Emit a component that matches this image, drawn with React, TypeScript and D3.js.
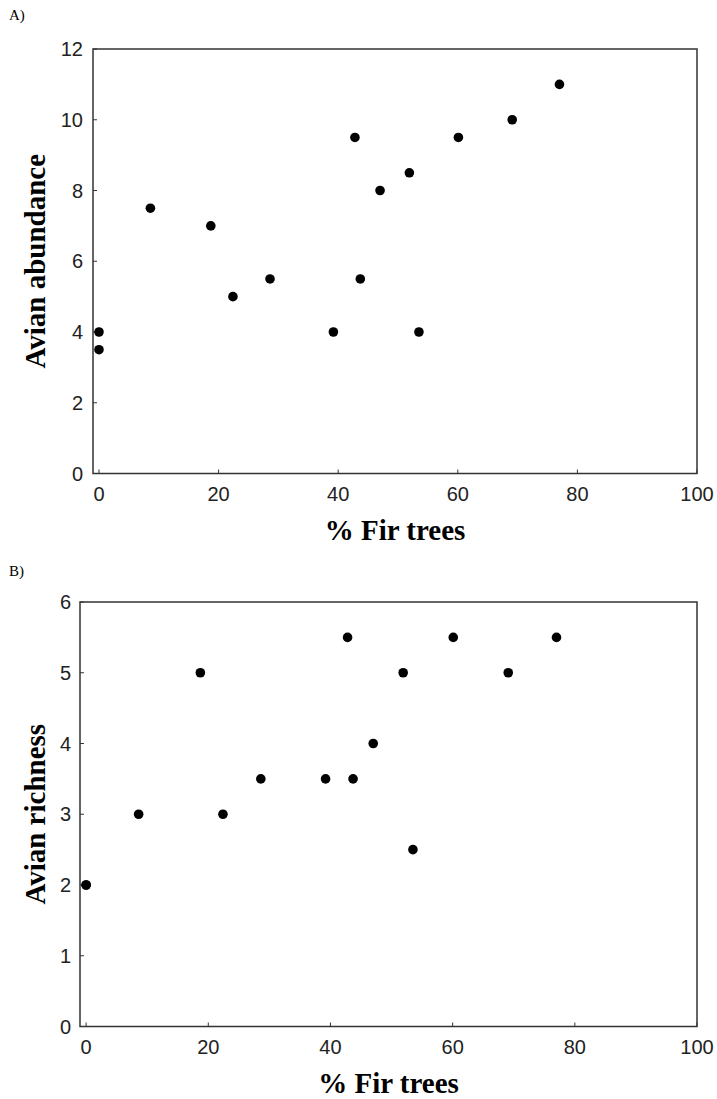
import React from "react";
import * as d3 from "d3";

const firPct = [0, 0, 8.6, 18.7, 22.4, 28.6, 39.2, 42.8, 43.7, 47.0, 51.9, 53.5, 60.1, 69.1, 77.0];
const abundance = [4, 3.5, 7.5, 7, 5, 5.5, 4, 9.5, 5.5, 8, 8.5, 4, 9.5, 10, 11];
const richness = [2, 2, 3, 5, 3, 3.5, 3.5, 5.5, 3.5, 4, 5, 2.5, 5.5, 5, 5.5];
const xTicks = [0, 20, 40, 60, 80, 100];
const yTicksA = [0, 2, 4, 6, 8, 10, 12];
const yTicksB = [0, 1, 2, 3, 4, 5, 6];

type PanelProps = {
  label: string;
  labelY: number;
  left: number;
  top: number;
  right: number;
  bottom: number;
  yMax: number;
  yTicks: number[];
  yValues: number[];
  yTitle: string;
  yLabelGap: number;
};

function Panel(p: PanelProps) {
  const x = d3.scaleLinear().domain([-1, 100]).range([p.left, p.right]);
  const y = d3.scaleLinear().domain([0, p.yMax]).range([p.bottom, p.top]);
  const axisColor = "#333";
  return (
    <g>
      <text x={9} y={p.labelY} fontFamily="Liberation Serif" fontSize={15} fill="#000">
        {p.label}
      </text>
      <rect
        x={p.left}
        y={p.top}
        width={p.right - p.left}
        height={p.bottom - p.top}
        fill="none"
        stroke={axisColor}
        strokeWidth={1.5}
      />
      {xTicks.map((t) => (
        <g key={"x" + t}>
          <line x1={x(t)} x2={x(t)} y1={p.bottom} y2={p.bottom - 4} stroke={axisColor} strokeWidth={1} />
          <text
            x={x(t)}
            y={p.bottom + 27}
            textAnchor="middle"
            fontFamily="Liberation Sans"
            fontSize={20}
            fill="#222"
          >
            {t}
          </text>
        </g>
      ))}
      {p.yTicks.map((t) => (
        <g key={"y" + t}>
          <line x1={p.left} x2={p.left + 4} y1={y(t)} y2={y(t)} stroke={axisColor} strokeWidth={1} />
          <text
            x={p.left - p.yLabelGap}
            y={y(t) + 7}
            textAnchor="end"
            fontFamily="Liberation Sans"
            fontSize={20}
            fill="#222"
          >
            {t}
          </text>
        </g>
      ))}
      {firPct.map((v, i) => (
        <circle key={"pt" + i} cx={x(v)} cy={y(p.yValues[i])} r={4.8} fill="#000" />
      ))}
      <text
        x={(p.left + p.right) / 2}
        y={p.bottom + 66}
        textAnchor="middle"
        fontFamily="Liberation Serif"
        fontWeight="bold"
        fontSize={29}
        fill="#000"
      >
        % Fir trees
      </text>
      <text
        transform={`translate(45, ${(p.top + p.bottom) / 2}) rotate(-90)`}
        textAnchor="middle"
        fontFamily="Liberation Serif"
        fontWeight="bold"
        fontSize={29}
        fill="#000"
      >
        {p.yTitle}
      </text>
    </g>
  );
}

export default function App() {
  return (
    <svg width={717} height={1099} style={{ position: "absolute", left: 0, top: 0, background: "#fff" }}>
      <rect x={0} y={0} width={717} height={1099} fill="#fff" />
      <Panel
        label="A)"
        labelY={20}
        left={93}
        top={49}
        right={697}
        bottom={473.5}
        yMax={12}
        yTicks={yTicksA}
        yValues={abundance}
        yTitle="Avian abundance"
        yLabelGap={10}
      />
      <Panel
        label="B)"
        labelY={576}
        left={80}
        top={602}
        right={697}
        bottom={1026.5}
        yMax={6}
        yTicks={yTicksB}
        yValues={richness}
        yTitle="Avian richness"
        yLabelGap={9}
      />
    </svg>
  );
}
